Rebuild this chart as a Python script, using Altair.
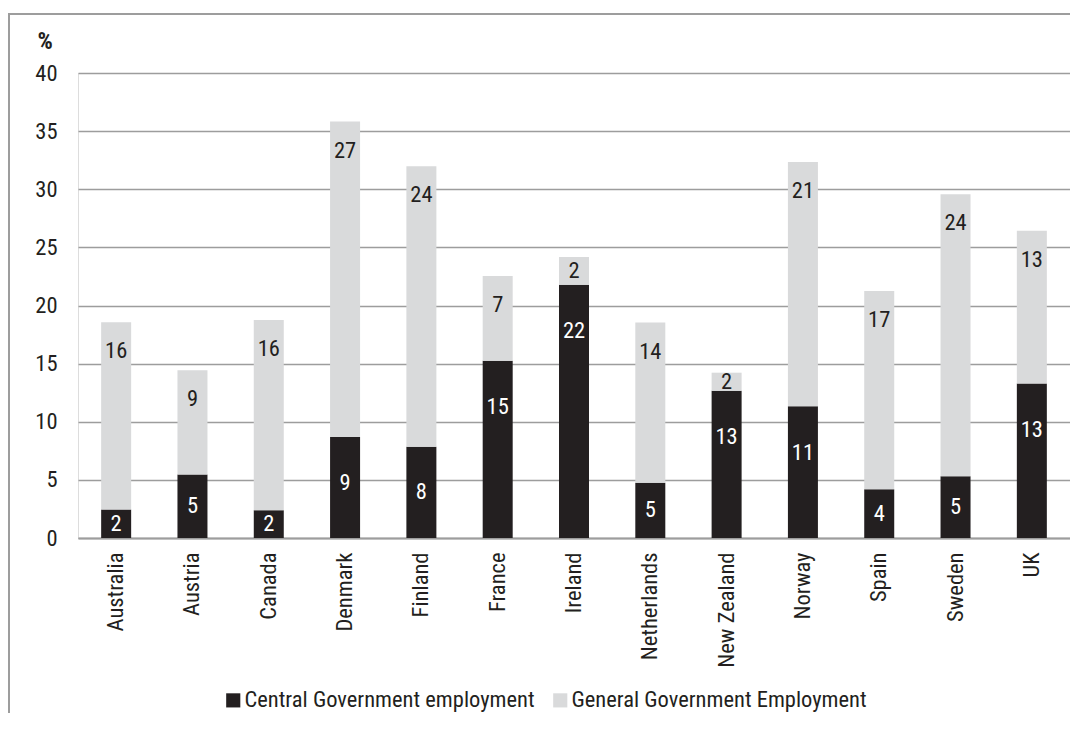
import altair as alt
import pandas as pd

countries = ["Australia", "Austria", "Canada", "Denmark", "Finland", "France",
             "Ireland", "Netherlands", "New Zealand", "Norway", "Spain", "Sweden", "UK"]
central = [2.45, 5.47, 2.39, 8.69, 7.86, 15.25, 21.78, 4.75, 12.66, 11.34, 4.20, 5.32, 13.29]
general = [16.10, 8.95, 16.37, 27.14, 24.11, 7.28, 2.39, 13.78, 1.56, 21.00, 17.04, 24.26, 13.15]
series_names = ["Central Government employment", "General Government Employment"]
colors = ["#231f20", "#d9dadb"]
y_ticks = [0, 5, 10, 15, 20, 25, 30, 35, 40]

FONT = "Liberation Sans Narrow, Arial Narrow, Roboto Condensed, DejaVu Sans Condensed, sans-serif"
FS = 22.5

rows = []
for c, cv, gv in zip(countries, central, general):
    rows.append(dict(country=c, series=series_names[0], y0=0.0, y1=cv,
                     label=str(round(cv)), ly=max(cv / 2, cv - 4)))
    rows.append(dict(country=c, series=series_names[1], y0=cv, y1=cv + gv,
                     label=str(round(gv)), ly=max(cv + gv - 2.5, cv + gv / 2)))
df = pd.DataFrame(rows)

xenc = alt.X("country:N", sort=countries, title=None,
             scale=alt.Scale(paddingInner=0.6, paddingOuter=0.3),
             axis=alt.Axis(labelAngle=270, labelAlign="right", labelBaseline="middle",
                           labelPadding=14, ticks=False, domainColor="#9d9d9d",
                           domainWidth=2, labelFont=FONT, labelFontSize=FS,
                           labelColor="#231f20", labelLimit=0))

bars = alt.Chart(df).mark_bar(size=30).encode(
    x=xenc,
    y=alt.Y("y0:Q", scale=alt.Scale(domain=[0, 40]), title="%",
            axis=alt.Axis(values=y_ticks, domain=False, ticks=False, labelPadding=21,
                          gridColor="#9d9d9d", gridWidth=1.5,
                          labelFont=FONT, labelFontSize=FS, labelColor="#231f20",
                          titleAngle=0, titleAlign="left", titleBaseline="middle",
                          titleX=-41, titleY=-32, titleFont=FONT, titleFontSize=24,
                          titleFontWeight="bold", titleColor="#231f20")),
    y2="y1:Q",
    color=alt.Color("series:N", scale=alt.Scale(domain=series_names, range=colors),
                    legend=alt.Legend(title=None, orient="none", direction="horizontal",
                                      legendX=144, legendY=616, symbolType="square",
                                      symbolSize=200, symbolStrokeWidth=0,
                                      labelFont=FONT, labelFontSize=FS, labelLimit=0,
                                      labelColor="#231f20", labelOffset=0,
                                      columnPadding=14)),
)

txt_central = alt.Chart(df).transform_filter(
    alt.datum.series == series_names[0]
).mark_text(font=FONT, fontSize=FS, color="white", baseline="middle").encode(
    x=alt.X("country:N", sort=countries), y="ly:Q", text="label:N"
)

txt_general = alt.Chart(df).transform_filter(
    alt.datum.series == series_names[1]
).mark_text(font=FONT, fontSize=FS, color="#231f20", baseline="middle").encode(
    x=alt.X("country:N", sort=countries), y="ly:Q", text="label:N"
)

frame = alt.Chart(pd.DataFrame({"a": [0]})).mark_rect(
    fill=None, stroke="#9d9d9d", strokeWidth=2
).encode(
    x=alt.value(-69), x2=alt.value(1010), y=alt.value(-59), y2=alt.value(700)
)

chart = alt.layer(bars, txt_central, txt_general, frame).properties(
    width=992, height=465,
    padding={"left": 70, "top": 65, "right": 0, "bottom": 175},
    autosize=alt.AutoSizeParams(type="none"),
).configure_view(stroke=None).configure(background="white")

chart.save("out.html", embed_options={"renderer": "svg", "actions": False})
